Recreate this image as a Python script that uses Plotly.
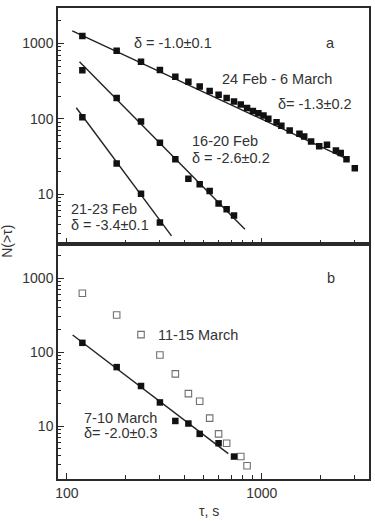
import plotly.graph_objects as go

# ---------------- data ----------------
# Panel a: 24 Feb - 6 March
tau_a1 = [120, 180, 240, 300, 360, 420, 480, 540, 600, 660, 720, 780, 840, 900, 960,
          1020, 1080, 1190, 1260, 1390, 1560, 1650, 1790, 1970, 2160, 2400, 2540, 2720, 3000]
n_a1 = [1250, 800, 570, 445, 360, 310, 268, 233, 208, 188, 170, 154, 139, 127, 118,
        110, 100, 90, 81, 70, 63, 58, 50, 43, 45, 38, 35, 29, 22]
fit_a1_x = [106.5, 2800]
fit_a1_y = [1472, 28.5]

# Panel a: 16-20 Feb
tau_a2 = [120, 180, 240, 300, 360, 420, 480, 540, 600, 660, 720]
n_a2 = [440, 188, 92, 48, 29, 16, 13.5, 11, 7.5, 6.3, 5.2]
fit_a2_x = [116, 819]
fit_a2_y = [569, 3.41]

# Panel a: 21-23 Feb
tau_a3 = [120, 180, 240, 300]
n_a3 = [105, 25.5, 10.1, 4.2]
fit_a3_x = [111.7, 344]
fit_a3_y = [140, 2.78]

# Panel b: 7-10 March (filled)
tau_b1 = [120, 180, 240, 300, 360, 420, 480, 600, 720]
n_b1 = [134, 63, 35, 21, 11.8, 10.9, 7.9, 5.9, 3.9]
fit_b1_x = [107, 673]
fit_b1_y = [171, 4.28]

# Panel b: 11-15 March (open)
tau_b2 = [120, 180, 240, 300, 360, 420, 480, 540, 600, 660, 780, 840]
n_b2 = [627, 319, 173, 92, 51, 27.6, 21.8, 12.9, 7.9, 5.9, 3.9, 2.93]

x_major = [100, 1000]
x_minor = [200, 300, 400, 500, 600, 700, 800, 900, 2000, 3000]
y_major = [10, 100, 1000]
y_minor = [2, 3, 4, 5, 6, 7, 8, 9, 20, 30, 40, 50, 60, 70, 80, 90,
           200, 300, 400, 500, 600, 700, 800, 900, 2000, 3000]

# ---------------- styling ----------------
FONT = "Liberation Sans, Arial, sans-serif"
TXT = "#333333"
AX = "#2a2a2a"
LINEC = "#222222"
FILLC = "#111111"
OPENC = "#707070"
ASIZE = 14.5

fig = go.Figure()

def line(x, y, xa, ya):
    fig.add_trace(go.Scatter(x=x, y=y, mode="lines", xaxis=xa, yaxis=ya,
                             line=dict(color=LINEC, width=1.4), showlegend=False,
                             hoverinfo="skip"))

def filled(x, y, xa, ya):
    fig.add_trace(go.Scatter(x=x, y=y, mode="markers", xaxis=xa, yaxis=ya,
                             marker=dict(symbol="square", size=6.5, color=FILLC,
                                         line=dict(width=0)),
                             showlegend=False))

line(fit_a1_x, fit_a1_y, "x", "y")
line(fit_a2_x, fit_a2_y, "x", "y")
line(fit_a3_x, fit_a3_y, "x", "y")
filled(tau_a1, n_a1, "x", "y")
filled(tau_a2, n_a2, "x", "y")
filled(tau_a3, n_a3, "x", "y")

line(fit_b1_x, fit_b1_y, "x2", "y2")
fig.add_trace(go.Scatter(x=tau_b2, y=n_b2, mode="markers", xaxis="x2", yaxis="y2",
                         marker=dict(symbol="square-open", size=6.5, color=OPENC,
                                     line=dict(width=1.1, color=OPENC)),
                         showlegend=False))
filled(tau_b1, n_b1, "x2", "y2")

xcommon = dict(type="log", range=[1.9542, 3.55], tickmode="array", tickvals=x_major,
               ticktext=[str(v) for v in x_major], ticks="inside", ticklen=6, tickwidth=1.2,
               tickcolor=AX, minor=dict(tickmode="array", tickvals=x_minor, ticks="inside",
                                        ticklen=4, tickwidth=1.2, tickcolor=AX),
               showline=True, linecolor=AX, linewidth=1.5, mirror=True,
               showgrid=False, zeroline=False,
               tickfont=dict(family=FONT, size=14, color=TXT))
ycommon = dict(type="log", tickmode="array", tickvals=y_major,
               ticktext=[str(v) for v in y_major], ticks="inside", ticklen=6, tickwidth=1.2,
               tickcolor=AX, minor=dict(tickmode="array", tickvals=y_minor, ticks="inside",
                                        ticklen=3.5, tickwidth=1, tickcolor=AX),
               showline=True, linecolor=AX, linewidth=1.5, mirror=True,
               showgrid=False, zeroline=False,
               tickfont=dict(family=FONT, size=14, color=TXT))

fig.update_layout(
    width=375, height=521,
    margin=dict(l=58, r=4, t=8, b=42, pad=0),
    paper_bgcolor="white", plot_bgcolor="white",
    xaxis=dict(xcommon, anchor="y", showticklabels=False),
    yaxis=dict(ycommon, domain=[0.4986, 1], range=[0.335, 3.47], anchor="x"),
    xaxis2=dict(xcommon, anchor="y2"),
    yaxis2=dict(ycommon, domain=[0, 0.4986], range=[0.288, 3.46], anchor="x2"),
    font=dict(family=FONT, size=15, color=TXT),
)

def ann(text, x, y, xa, ya, anchor="left"):
    fig.add_annotation(text=text, x=x, y=y, xref=xa, yref=ya, showarrow=False,
                       xanchor=anchor, yanchor="middle",
                       font=dict(family=FONT, size=ASIZE, color=TXT))

ann("δ = -1.0±0.1", 2.3345, 3.0, "x", "y")
ann("a", 3.353, 3.01, "x", "y", "center")
ann("24 Feb - 6 March", 2.786, 2.524, "x", "y")
ann("δ= -1.3±0.2", 3.071, 2.191, "x", "y")
ann("16-20 Feb", 2.633, 1.70, "x", "y")
ann("δ = -2.6±0.2", 2.633, 1.478, "x", "y")
ann("21-23 Feb", 2.0087, 0.80, "x", "y")
ann("δ = -3.4±0.1", 2.0087, 0.59, "x", "y")

ann("b", 3.353, 3.0, "x2", "y2", "center")
ann("11-15 March", 2.455, 2.238, "x2", "y2")
ann("7-10 March", 2.078, 1.11, "x2", "y2")
ann("δ= -2.0±0.3", 2.078, 0.905, "x2", "y2")

# axis titles
fig.add_annotation(text="τ, s", x=0.486, y=-0.068, xref="paper", yref="paper",
                   showarrow=False, xanchor="center", yanchor="middle",
                   font=dict(family=FONT, size=14, color=TXT))
fig.add_annotation(text="N(>τ)", x=-0.165, y=0.505, xref="paper", yref="paper",
                   showarrow=False, textangle=-90, xanchor="center", yanchor="middle",
                   font=dict(family=FONT, size=14, color=TXT))

fig.write_html("out.html")
